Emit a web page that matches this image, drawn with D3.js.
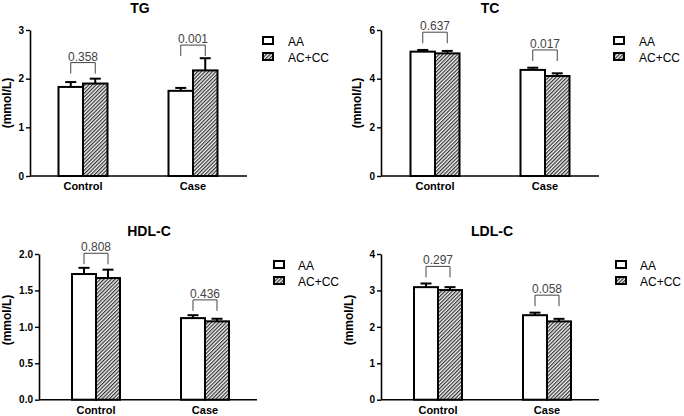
<!DOCTYPE html>
<html>
<head>
<meta charset="utf-8">
<script src="https://cdn.jsdelivr.net/npm/d3@7"></script>
<style>
  html, body { margin: 0; padding: 0; background: #fff; }
  svg { display: block; }
  text { font-family: "Liberation Sans", Arial, sans-serif; }
</style>
</head>
<body>
<svg id="chart" width="684" height="416"></svg>
<script>
// ---------- DATA ----------
const categories = ["Control", "Case"];
const seriesNames = ["AA", "AC+CC"];
const yLabel = "(mmol/L)";

const tgAA = [1.83, 1.75];
const tgAAErr = [0.10, 0.06];
const tgACCC = [1.90, 2.17];
const tgACCCErr = [0.10, 0.25];
const tgP = ["0.358", "0.001"];
const tgBracket = [2.33, 2.69];
const tgTicks = [0, 1, 2, 3];

const tcAA = [5.11, 4.36];
const tcAAErr = [0.07, 0.09];
const tcACCC = [5.04, 4.11];
const tcACCCErr = [0.10, 0.11];
const tcP = ["0.637", "0.017"];
const tcBracket = [5.91, 5.18];
const tcTicks = [0, 2, 4, 6];

const hdlAA = [1.725, 1.12];
const hdlAAErr = [0.085, 0.04];
const hdlACCC = [1.67, 1.076];
const hdlACCCErr = [0.115, 0.035];
const hdlP = ["0.808", "0.436"];
const hdlBracket = [2.01, 1.37];
const hdlTicks = [0, 0.5, 1.0, 1.5, 2.0];

const ldlAA = [3.09, 2.32];
const ldlAAErr = [0.10, 0.07];
const ldlACCC = [3.01, 2.15];
const ldlACCCErr = [0.08, 0.07];
const ldlP = ["0.297", "0.058"];
const ldlBracket = [3.66, 2.87];
const ldlTicks = [0, 1, 2, 3, 4];

// ---------- PANELS (data + layout) ----------
const panels = [
  { title: "TG", aa: tgAA, aaErr: tgAAErr, ac: tgACCC, acErr: tgACCCErr, p: tgP, br: tgBracket, ticks: tgTicks, fmt: d3.format("d"),
    L: { ax: 30, xEnd: 247, yTop: 30, yBot: 176, c0: 83, c1: 193, bw: 24.5, titleX: 140, titleY: 13, ylabX: 11, ylabY: 103, legX: 263, legY: 37, legTx: 288 } },
  { title: "TC", aa: tcAA, aaErr: tcAAErr, ac: tcACCC, acErr: tcACCCErr, p: tcP, br: tcBracket, ticks: tcTicks, fmt: d3.format("d"),
    L: { ax: 381, xEnd: 599, yTop: 30, yBot: 176, c0: 435, c1: 545, bw: 24.5, titleX: 490, titleY: 13, ylabX: 361, ylabY: 103, legX: 614, legY: 37, legTx: 639 } },
  { title: "HDL-C", aa: hdlAA, aaErr: hdlAAErr, ac: hdlACCC, acErr: hdlACCCErr, p: hdlP, br: hdlBracket, ticks: hdlTicks, fmt: d3.format(".1f"),
    L: { ax: 39, xEnd: 257, yTop: 254, yBot: 399.7, c0: 96, c1: 205, bw: 24, titleX: 149, titleY: 236, ylabX: 11, ylabY: 320, legX: 274, legY: 261, legTx: 298 } },
  { title: "LDL-C", aa: ldlAA, aaErr: ldlAAErr, ac: ldlACCC, acErr: ldlACCCErr, p: ldlP, br: ldlBracket, ticks: ldlTicks, fmt: d3.format("d"),
    L: { ax: 381, xEnd: 599, yTop: 254, yBot: 399.7, c0: 438, c1: 547, bw: 24, titleX: 492, titleY: 236, ylabX: 353, ylabY: 320, legX: 616, legY: 261, legTx: 640 } }
];

const svg = d3.select("#chart");
const defs = svg.append("defs");
const pat = defs.append("pattern")
  .attr("id", "hatch").attr("patternUnits", "userSpaceOnUse")
  .attr("width", 2.6).attr("height", 2.6)
  .attr("patternTransform", "rotate(45)");
pat.append("rect").attr("width", 2.6).attr("height", 2.6).attr("fill", "#f4f4f4");
pat.append("line").attr("x1", 0.6).attr("y1", 0).attr("x2", 0.6).attr("y2", 2.6)
  .attr("stroke", "#333").attr("stroke-width", 1.2);

const fills = ["#fff", "url(#hatch)"];

panels.forEach(P => {
  const L = P.L;
  const g = svg.append("g");
  const y = d3.scaleLinear().domain([0, d3.max(P.ticks)]).range([L.yBot, L.yTop]);
  const x = d3.scalePoint().domain(categories).range([L.c0, L.c1]);
  const xs = d3.scaleBand().domain(seriesNames).range([-L.bw, L.bw]).padding(0);

  // title
  g.append("text").attr("x", L.titleX).attr("y", L.titleY)
    .attr("text-anchor", "middle").attr("font-weight", "bold").attr("font-size", 14)
    .text(P.title);

  // y label
  g.append("text").attr("transform", `translate(${L.ylabX},${L.ylabY}) rotate(-90)`)
    .attr("text-anchor", "middle").attr("font-weight", "bold").attr("font-size", 12)
    .text(yLabel);

  const rows = [];
  categories.forEach((c, i) => {
    rows.push({ cat: c, s: seriesNames[0], v: P.aa[i], e: P.aaErr[i] });
    rows.push({ cat: c, s: seriesNames[1], v: P.ac[i], e: P.acErr[i] });
  });

  // error bars (upper only)
  rows.forEach(r => {
    const cx = x(r.cat) + xs(r.s) + xs.bandwidth() / 2;
    g.append("line").attr("x1", cx).attr("x2", cx)
      .attr("y1", y(r.v)).attr("y2", y(r.v + r.e))
      .attr("stroke", "#000").attr("stroke-width", 2);
    g.append("line").attr("x1", cx - 5.5).attr("x2", cx + 5.5)
      .attr("y1", y(r.v + r.e)).attr("y2", y(r.v + r.e))
      .attr("stroke", "#000").attr("stroke-width", 2);
  });

  g.selectAll("rect.bar").data(rows).join("rect").attr("class", "bar")
    .attr("x", d => x(d.cat) + xs(d.s))
    .attr("y", d => y(d.v))
    .attr("width", xs.bandwidth())
    .attr("height", d => y(0) - y(d.v))
    .attr("fill", d => fills[seriesNames.indexOf(d.s)])
    .attr("stroke", "#000").attr("stroke-width", 2);

  // axes
  const yAxis = d3.axisLeft(y).tickValues(P.ticks).tickFormat(P.fmt).tickSize(4).tickSizeOuter(0).tickPadding(2);
  const ya = g.append("g").attr("transform", `translate(${L.ax},0)`).call(yAxis);
  ya.select(".domain").attr("stroke-width", 1.6);
  ya.selectAll(".tick line").attr("stroke-width", 1.4);
  ya.selectAll(".tick text").attr("font-weight", "bold").attr("font-size", 10)
    .attr("font-family", "Liberation Sans, Arial, sans-serif").attr("fill", "#000");

  g.append("line").attr("x1", L.ax).attr("x2", L.xEnd).attr("y1", y(0)).attr("y2", y(0))
    .attr("stroke", "#000").attr("stroke-width", 1.6);

  categories.forEach(c => {
    g.append("text").attr("x", x(c)).attr("y", y(0) + 14)
      .attr("text-anchor", "middle").attr("font-weight", "bold").attr("font-size", 11)
      .text(c);
  });

  // significance brackets
  categories.forEach((c, i) => {
    const xl = x(c) + xs(seriesNames[0]) + xs.bandwidth() / 2;
    const xr = x(c) + xs(seriesNames[1]) + xs.bandwidth() / 2;
    const yt = y(P.br[i]);
    g.append("path")
      .attr("d", `M${xl},${yt + 11}V${yt}H${xr}V${yt + 11}`)
      .attr("fill", "none").attr("stroke", "#444").attr("stroke-width", 1);
    g.append("text").attr("x", (xl + xr) / 2).attr("y", yt - 2)
      .attr("text-anchor", "middle").attr("font-size", 12).attr("fill", "#444")
      .text(P.p[i]);
  });

  // legend
  seriesNames.forEach((s, i) => {
    g.append("rect").attr("x", L.legX).attr("y", L.legY + i * 16)
      .attr("width", 10).attr("height", 7)
      .attr("fill", fills[i]).attr("stroke", "#000").attr("stroke-width", 2);
    g.append("text").attr("x", L.legTx).attr("y", L.legY + i * 16 + 8.5)
      .attr("font-size", 12).attr("fill", "#000").text(s);
  });
});
</script>
</body>
</html>
